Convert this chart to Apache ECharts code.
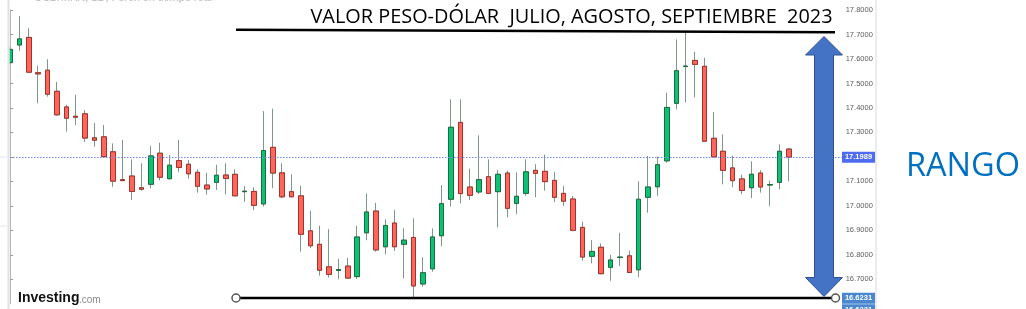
<!DOCTYPE html>
<html><head><meta charset="utf-8">
<script src="https://cdn.jsdelivr.net/npm/echarts@6/dist/echarts.min.js"></script>
<style>html,body{margin:0;padding:0;background:#fff;overflow:hidden}#chart{width:1026px;height:309px}</style>
</head><body><div id="chart"></div>
<script>
// ---- data (USD/MXN daily candles, Jul–Sep 2023) ----
const opens  = [17.585,17.657,17.688,17.544,17.554,17.468,17.404,17.366,17.376,17.278,17.282,17.221,17.107,17.122,17.074,17.088,17.215,17.111,17.185,17.170,17.137,17.085,17.096,17.126,17.129,17.058,17.059,17.008,17.239,17.135,17.058,17.041,16.898,16.843,16.751,16.736,16.754,16.711,16.890,16.979,16.833,16.930,16.843,16.871,16.681,16.743,16.878,17.027,17.341,17.077,17.057,17.119,17.058,17.134,17.010,17.051,17.145,17.141,17.104,17.051,17.028,16.912,16.794,16.831,16.749,16.789,16.796,16.739,17.035,17.078,17.184,17.419,17.569,17.594,17.570,17.276,17.223,17.155,17.110,17.074,17.134,17.085,17.096,17.232];
const closes = [17.639,17.682,17.546,17.539,17.456,17.372,17.358,17.362,17.277,17.268,17.201,17.101,17.103,17.059,17.068,17.204,17.117,17.166,17.157,17.131,17.080,17.069,17.125,17.112,17.041,17.060,17.002,17.226,17.134,17.037,17.037,16.884,16.837,16.737,16.720,16.740,16.705,16.873,16.975,16.820,16.920,16.833,16.860,16.673,16.727,16.873,17.009,17.321,17.050,17.043,17.107,17.051,17.129,16.990,17.039,17.139,17.133,17.099,17.035,17.019,16.900,16.791,16.814,16.723,16.779,16.791,16.728,17.027,17.077,17.168,17.402,17.552,17.571,17.578,17.264,17.200,17.145,17.103,17.063,17.129,17.077,17.087,17.223,17.1989];
const lows   = [17.580,17.634,17.545,17.419,17.446,17.368,17.303,17.330,17.261,17.242,17.200,17.078,17.102,17.024,17.062,17.072,17.104,17.108,17.139,17.111,17.054,17.046,17.065,17.047,17.041,17.017,16.983,16.997,17.072,17.031,17.037,16.813,16.827,16.715,16.707,16.700,16.701,16.701,16.860,16.813,16.802,16.816,16.704,16.623,16.670,16.731,16.836,16.997,17.010,17.024,17.048,17.048,16.912,16.953,16.967,17.041,17.035,17.062,17.016,17.000,16.896,16.776,16.765,16.720,16.694,16.754,16.728,16.709,16.972,17.041,17.176,17.394,17.423,17.443,17.264,17.200,17.088,17.076,17.048,17.032,17.054,17.000,17.068,17.100];
const highs  = [17.650,17.775,17.726,17.572,17.599,17.506,17.413,17.454,17.391,17.338,17.330,17.255,17.269,17.190,17.174,17.244,17.258,17.208,17.269,17.187,17.149,17.135,17.168,17.174,17.149,17.081,17.076,17.387,17.397,17.174,17.129,17.082,16.980,16.919,16.905,16.784,16.788,16.918,17.051,17.012,16.945,16.983,16.909,16.949,16.790,16.908,17.085,17.435,17.435,17.152,17.288,17.190,17.146,17.144,17.137,17.190,17.170,17.209,17.138,17.081,17.040,16.935,16.860,16.847,16.800,16.890,16.817,17.100,17.204,17.201,17.462,17.680,17.711,17.630,17.605,17.383,17.292,17.205,17.127,17.182,17.146,17.103,17.251,17.236];
const yAxisMin = 16.6, yAxisMax = 17.8, yAxisStep = 0.1;
const lastPrice = 17.1989;
const rangeLow = 16.6231;
const rangeLowLabels = ['16.6231', '16.6231'];
const titleText = 'VALOR PESO-DÓLAR  JULIO, AGOSTO, SEPTIEMBRE  2023';
const sideText = 'RANGO';
const headerText = '≡  USD/MXN, 1D, Forex en tiempo real';

const dayIndex = opens.map((_, i) => i);
const fullCandles = dayIndex.map(i => [i, opens[i], closes[i], lows[i], highs[i]]);
const bodyCandles = dayIndex.map(i => [i, opens[i], closes[i], Math.min(opens[i], closes[i]), Math.max(opens[i], closes[i])]);

const chart = echarts.init(document.getElementById('chart'), null, {renderer: 'canvas'});
const WICK = '#7c9888';
chart.setOption({
  animation: false,
  backgroundColor: '#fff',
  grid: {left: 10, right: 184.3, top: 10, bottom: 5.2, containLabel: false},
  xAxis: {type: 'value', min: 0, max: 88.63, show: false, splitLine: {show: false}},
  yAxis: {
    type: 'value', position: 'right', min: yAxisMin, max: yAxisMax, interval: yAxisStep, scale: true,
    axisLine: {show: true, lineStyle: {color: '#b5b5b5', width: 1}},
    axisTick: {show: true, length: 3, lineStyle: {color: '#9a9a9a'}},
    splitLine: {show: false},
    axisLabel: {show: true, margin: 4, color: '#5c5c5c', fontSize: 7.5, fontFamily: 'Liberation Sans', showMinLabel: false,
      formatter: v => v.toFixed(4)}
  },
  series: [
    {type: 'candlestick', data: fullCandles, barWidth: 5, clip: true, silent: true,
      itemStyle: {color: WICK, color0: WICK, borderColor: WICK, borderColor0: WICK, borderWidth: 1}},
    {type: 'candlestick', data: bodyCandles, barWidth: 5, clip: true, silent: true,
      itemStyle: {color: '#0bc174', color0: '#fd675b', borderColor: '#1c6c40', borderColor0: '#a3322b', borderWidth: 1},
      markLine: {silent: true, symbol: 'none', label: {show: false},
        lineStyle: {type: [1.5, 1.5], color: '#6f86f2', width: 1},
        data: [{yAxis: lastPrice}]}}
  ]
});

function measure(text, font) {
  const c = document.createElement('canvas').getContext('2d');
  c.font = font; return c.measureText(text).width;
}
const titleFont = '20px "Open Sans"';
const titleScale = 522 / measure(titleText, titleFont);
const sideFont = '32px "Open Sans"';
const sideScale = 114 / measure(sideText, sideFont);

const yLast = chart.convertToPixel({yAxisIndex: 0}, lastPrice);
const yLow = chart.convertToPixel({yAxisIndex: 0}, rangeLow);

function tag(y, text, fill) {
  return {type: 'group', x: 842, y: y - 5.5, z: 30, children: [
    {type: 'rect', z: 30, shape: {x: 0, y: 0, width: 33, height: 11}, style: {fill: fill}},
    {type: 'text', z: 31, x: 16.5, y: 5.7, style: {text: text, fill: '#fff', font: 'bold 7.5px "Liberation Sans"', align: 'center', verticalAlign: 'middle'}}
  ]};
}

chart.setOption({graphic: [
  {type: 'rect', z: 20, shape: {x: 0, y: 0, width: 9.5, height: 309}, style: {fill: '#fff'}},
  {type: 'line', z: 21, shape: {x1: 8.5, y1: 0, x2: 8.5, y2: 309}, style: {stroke: '#e2e2e6', lineWidth: 2}},
  {type: 'line', z: 21, shape: {x1: 0, y1: 157, x2: 7, y2: 157}, style: {stroke: '#e6e6e6', lineWidth: 1}},
  {type: 'line', z: 21, shape: {x1: 0, y1: 226, x2: 7, y2: 226}, style: {stroke: '#e6e6e6', lineWidth: 1}},
  {type: 'line', shape: {x1: 876, y1: 0, x2: 876, y2: 309}, style: {stroke: '#ebebf2', lineWidth: 2}},
  {type: 'text', z: 21, x: 22, y: -8, style: {text: headerText, fill: '#b9b9b9', font: '11px "Liberation Sans"'}},
  tag(yLast, lastPrice.toFixed(4), '#4d6cf0'),
  tag(yLow, rangeLowLabels[0], '#4a87cf'),
  tag(yLow + 11.5, rangeLowLabels[1], '#4a87cf'),
  {type: 'text', z: 21, x: 18, y: 298.5, style: {text: 'Investing', fill: '#111', font: 'bold 14px "Liberation Sans"', verticalAlign: 'middle'}},
  {type: 'text', z: 21, x: 79, y: 300.5, style: {text: '.com', fill: '#8a8a8a', font: '10px "Liberation Sans"', verticalAlign: 'middle'}},
  // annotations
  {type: 'line', shape: {x1: 236, y1: 29.8, x2: 835, y2: 32.3}, style: {stroke: '#000', lineWidth: 2.5}, z: 10},
  {type: 'line', shape: {x1: 240, y1: 298, x2: 831, y2: 298}, style: {stroke: '#000', lineWidth: 2.5}, z: 10},
  {type: 'circle', shape: {cx: 236, cy: 298, r: 4}, style: {fill: '#fff', stroke: '#555', lineWidth: 1.5}, z: 11},
  {type: 'circle', shape: {cx: 835.5, cy: 298, r: 4}, style: {fill: '#fff', stroke: '#555', lineWidth: 1.5}, z: 11},
  {type: 'polygon', z: 12, shape: {points: [[824,36.5],[842.5,55],[833.5,55],[833.5,277.5],[842.5,277.5],[824,296.5],[805.5,277.5],[814.5,277.5],[814.5,55],[805.5,55]]},
    style: {fill: '#4472c4', stroke: '#2f528f', lineWidth: 1}},
  {type: 'text', x: 310.5, y: 17.5, scaleX: titleScale, z: 12, style: {text: titleText, fill: '#000', font: titleFont, verticalAlign: 'middle'}},
  {type: 'text', x: 906, y: 167, scaleX: sideScale, z: 12, style: {text: sideText, fill: '#0070c0', font: sideFont, verticalAlign: 'middle'}}
]});
</script>
</body></html>
